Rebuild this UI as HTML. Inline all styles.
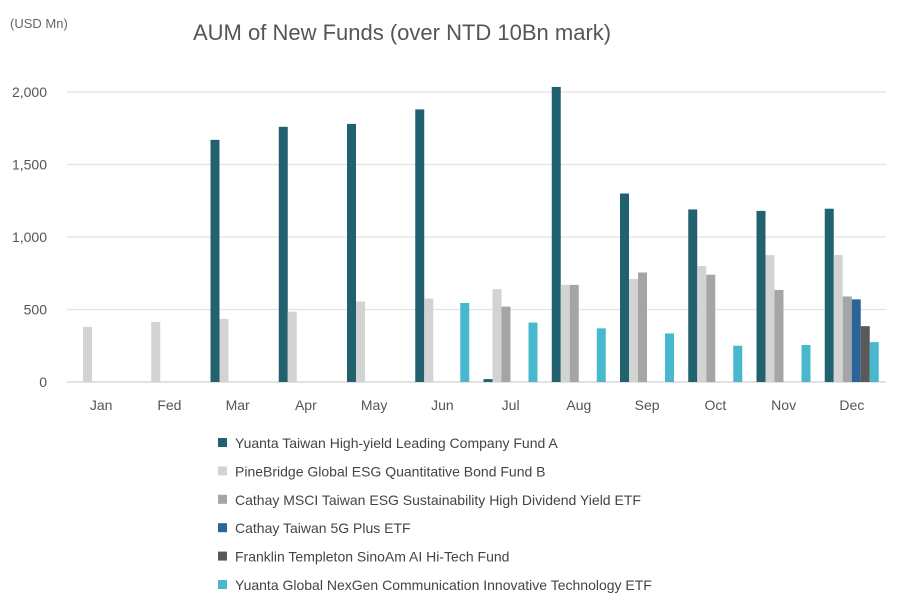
<!DOCTYPE html>
<html><head><meta charset="utf-8"><style>
body{margin:0;background:#fff;font-family:"Liberation Sans",sans-serif}
</style></head><body>
<svg id="chart" width="902" height="602" xmlns="http://www.w3.org/2000/svg">
<text x="10" y="28" font-size="13" fill="#666">(USD Mn)</text>
<text x="193" y="40" font-size="22" fill="#555">AUM of New Funds (over NTD 10Bn mark)</text>
<g id="grid"></g><g id="bars"></g><g id="xlabels"></g><g id="legend"></g>
</svg>
<script>
const categories=["Jan","Fed","Mar","Apr","May","Jun","Jul","Aug","Sep","Oct","Nov","Dec"];
const seriesNames=["Yuanta Taiwan High-yield Leading Company Fund A","PineBridge Global ESG Quantitative Bond Fund B","Cathay MSCI Taiwan ESG Sustainability High Dividend Yield ETF","Cathay Taiwan 5G Plus ETF","Franklin Templeton SinoAm AI Hi-Tech Fund","Yuanta Global NexGen Communication Innovative Technology ETF"];
const seriesA=[0,0,1670,1760,1780,1880,20,2035,1300,1190,1180,1195];
const seriesB=[380,415,435,485,555,575,640,670,710,800,875,875];
const seriesC=[0,0,0,0,0,0,520,670,755,740,635,590];
const seriesD=[0,0,0,0,0,0,0,0,0,0,0,570];
const seriesE=[0,0,0,0,0,0,0,0,0,0,0,385];
const seriesF=[0,0,0,0,0,545,410,370,335,250,255,275];
const yTicks=[0,500,1000,1500,2000];
const colors=["#22616f","#d3d3d3","#a5a5a5","#2e6399","#595959","#48b8cf"];
const allSeries=[seriesA,seriesB,seriesC,seriesD,seriesE,seriesF];
const NS="http://www.w3.org/2000/svg";
const left=67,right=886,y0=382,pxPer=145/1000;
const catW=(right-left)/categories.length,barW=9,pad=7;
const y=v=>y0-v*pxPer;
function mk(tag,attrs,parent,text){const e=document.createElementNS(NS,tag);for(const k in attrs)e.setAttribute(k,attrs[k]);if(text!==undefined)e.textContent=text;parent.appendChild(e);return e;}
const grid=document.getElementById('grid');
yTicks.forEach(t=>{
 const l=mk('line',{x1:left,x2:right,y1:y(t),y2:y(t),stroke:t===0?'#d0d0d0':'#e2e2e2','stroke-width':1.3},grid);
 
 
 const tx=mk('text',{x:47,y:y(t)+5,'font-size':14,fill:'#555','text-anchor':'end'},grid,t.toLocaleString('en-US'));
 
 
});
const bars=document.getElementById('bars');
allSeries.forEach((s,si)=>{
 s.forEach((v,ci)=>{
  if(v<=0)return;
  const r=mk('rect',{x:left+ci*catW+pad+si*barW,y:y(v),width:barW,height:v*pxPer,fill:colors[si]},bars);
  
  
 });
});
const xl=document.getElementById('xlabels');
categories.forEach((c,ci)=>{
 const t=mk('text',{x:left+ci*catW+catW/2,y:410,'font-size':14,fill:'#555','text-anchor':'middle'},xl,c);
 
 
});
const lg=document.getElementById('legend');
seriesNames.forEach((n,i)=>{
 const yy=443+i*28.4;
 const g=mk('g',{},lg);
 
 
 mk('rect',{x:218,y:yy-5,width:9,height:9,fill:colors[i]},g);
 mk('text',{x:235,y:yy+5,'font-size':14,fill:'#444'},g,n);
});
</script>
</body></html>
